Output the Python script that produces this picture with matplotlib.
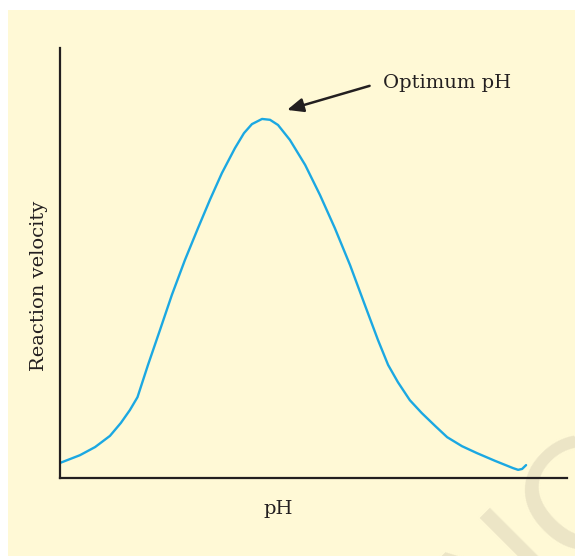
import matplotlib.pyplot as plt
from matplotlib.patches import Rectangle

# pH vs reaction velocity (arbitrary units)
ph = [0.0, 0.55, 0.97, 1.38, 1.68, 1.93, 2.14, 2.43, 2.76, 3.09, 3.45, 3.81,
      4.14, 4.47, 4.83, 5.08, 5.30, 5.58, 5.80, 6.02, 6.35, 6.77, 7.18, 7.59,
      8.01, 8.42, 8.78, 9.06, 9.33, 9.66, 9.99, 10.36, 10.69, 11.10, 11.51,
      12.01, 12.51, 12.65, 12.76, 12.87]
velocity = [3.5, 5.3, 7.2, 9.8, 12.8, 15.8, 18.8, 26.3, 34.4, 42.6, 50.7, 58.1,
            64.7, 70.9, 76.7, 80.2, 82.3, 83.5, 83.3, 82.1, 78.6, 72.8, 65.8, 58.1,
            49.5, 40.2, 32.1, 26.3, 22.3, 18.1, 15.1, 12.1, 9.5, 7.4, 5.8,
            4.0, 2.3, 1.9, 2.1, 3.0]
arrow_tip = (6.27, 85.6)   # just right of the peak
label_at = (8.92, 91.9)

W, H = 575, 556
fig = plt.figure(figsize=(W / 100, H / 100), dpi=100, facecolor='white')

# cream panel behind the chart
fig.patches.append(Rectangle((8 / W, 0), 1 - 8 / W, (H - 10) / H,
                             transform=fig.transFigure, facecolor='#FFF9D6',
                             edgecolor='none', zorder=-2))

# faint watermark
fig.text(494 / W, -88 / H, 'NCERT', rotation=45, rotation_mode='anchor',
         fontsize=108, color='#ECE5C6', family='DejaVu Sans',
         ha='left', va='baseline', zorder=-1)

ax = fig.add_axes([60 / W, (H - 478) / H, (567 - 60) / W, (478 - 48) / H])
ax.set_facecolor('none')
ax.plot(ph, velocity, color='#1BA8E2', lw=1.7, solid_capstyle='round')
ax.set_xlim(0, 14)
ax.set_ylim(0, 100)

for side in ['top', 'right']:
    ax.spines[side].set_visible(False)
for side in ['left', 'bottom']:
    ax.spines[side].set_color('#231F20')
    ax.spines[side].set_linewidth(1.6)
ax.set_xticks([])
ax.set_yticks([])

serif = ['DejaVu Serif']
ax.set_xlabel('pH', fontsize=14, family=serif, color='#231F20', va='top')
ax.xaxis.set_label_coords(0.430, -0.051)
ax.set_ylabel('Reaction velocity', fontsize=14, family=serif, color='#231F20')
ax.yaxis.set_label_coords(-0.024, 0.4465)

ax.annotate('Optimum pH', xy=arrow_tip, xytext=label_at,
            fontsize=14, family=serif, color='#231F20', va='center',
            arrowprops=dict(arrowstyle='-|>,head_length=0.7,head_width=0.3',
                            color='#231F20', lw=1.8, relpos=(0, 0.55),
                            shrinkA=8, shrinkB=0))

fig.savefig('out.png', dpi=100, facecolor='white')
